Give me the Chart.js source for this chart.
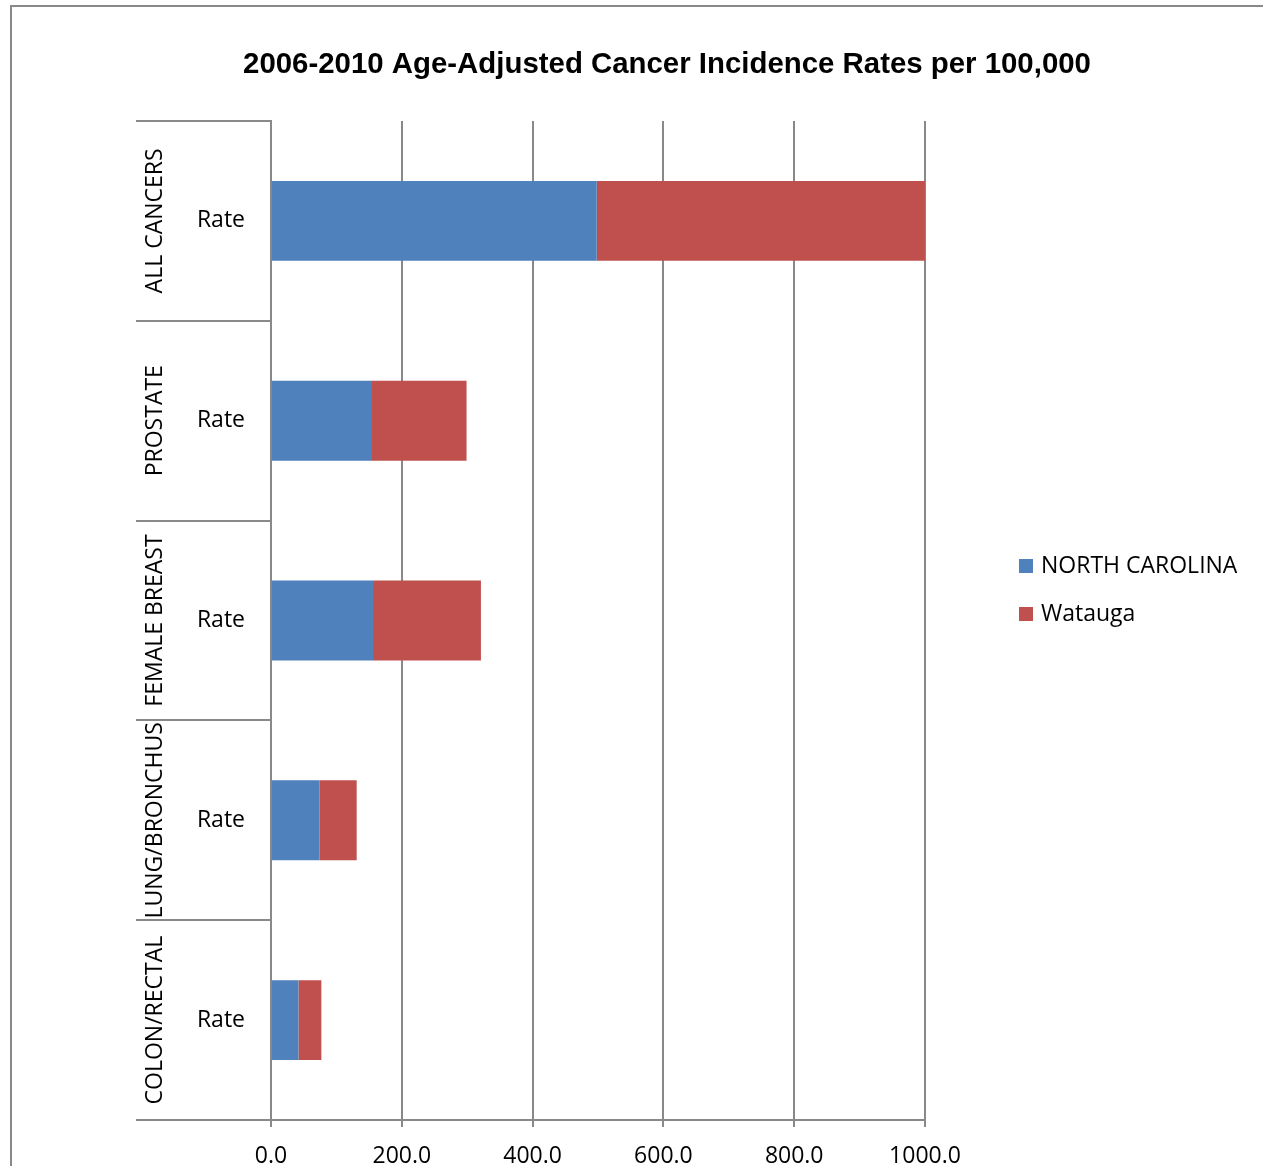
<!DOCTYPE html>
<html>
<head>
<meta charset="utf-8">
<script src="https://cdn.jsdelivr.net/npm/chart.js@4/dist/chart.umd.min.js"></script>
<style>
html,body{margin:0;padding:0;background:#fff;}
canvas{display:block;}
</style>
</head>
<body>
<canvas id="c" width="1263" height="1166"></canvas>
<script>
const categories = ['ALL CANCERS', 'PROSTATE', 'FEMALE BREAST', 'LUNG/BRONCHUS', 'COLON/RECTAL'];
const subLabels = ['Rate', 'Rate', 'Rate', 'Rate', 'Rate'];
const seriesNames = ['NORTH CAROLINA', 'Watauga'];
const ncValues = [498, 153, 156, 74, 42];
const wataugaValues = [504, 146, 165, 57, 35];
const xMin = 0, xMax = 1000, xStep = 200;
const titleText = '2006-2010 Age-Adjusted Cancer Incidence Rates per 100,000';

const BLUE = '#4F81BD', RED = '#C0504D', GRID = '#898989';
const FONT = '"Open Sans", sans-serif';

const decor = {
  id: 'decor',
  afterDraw(chart) {
    const ctx = chart.ctx;
    const y = chart.scales.y;
    const area = chart.chartArea;
    ctx.save();
    // outer frame
    ctx.strokeStyle = GRID; ctx.lineWidth = 2;
    ctx.beginPath();
    ctx.moveTo(11, 1166); ctx.lineTo(11, 6); ctx.lineTo(1263, 6);
    ctx.stroke();
    // title
    ctx.fillStyle = '#000';
    ctx.font = 'bold 29.4px "Liberation Sans", Arial, sans-serif';
    ctx.textAlign = 'center'; ctx.textBaseline = 'middle';
    ctx.fillText(titleText, 667, 65);
    // category separators + group labels
    const n = categories.length;
    const half = (y.getPixelForValue(1) - y.getPixelForValue(0)) / 2;
    ctx.strokeStyle = GRID; ctx.lineWidth = 2;
    for (let i = 0; i <= n; i++) {
      const py = Math.round(i < n ? y.getPixelForValue(i) - half : y.getPixelForValue(n - 1) + half);
      ctx.beginPath();
      ctx.moveTo(136, py); ctx.lineTo(area.left, py);
      ctx.stroke();
    }
    ctx.font = '23px ' + FONT;
    ctx.fillStyle = '#000';
    for (let i = 0; i < n; i++) {
      const cy = y.getPixelForValue(i);
      ctx.save();
      ctx.translate(155, cy);
      ctx.rotate(-Math.PI / 2);
      ctx.textAlign = 'center'; ctx.textBaseline = 'middle';
      ctx.fillText(categories[i], 0, 0);
      ctx.restore();
    }
    // legend
    const colors = [BLUE, RED];
    ctx.textAlign = 'left'; ctx.textBaseline = 'middle';
    for (let i = 0; i < seriesNames.length; i++) {
      const ly = 566 + i * 48;
      ctx.fillStyle = colors[i];
      ctx.fillRect(1019, ly - 7, 14, 14);
      ctx.fillStyle = '#000';
      ctx.fillText(seriesNames[i], 1041, ly);
    }
    ctx.restore();
  }
};

new Chart(document.getElementById('c'), {
  type: 'bar',
  data: {
    labels: subLabels,
    datasets: [
      { label: seriesNames[0], data: ncValues, backgroundColor: BLUE, borderWidth: 0 },
      { label: seriesNames[1], data: wataugaValues, backgroundColor: RED, borderWidth: 0 }
    ]
  },
  options: {
    indexAxis: 'y',
    responsive: false,
    animation: false,
    layout: { padding: { top: 121, right: 338, left: 0, bottom: 0 } },
    datasets: { bar: { categoryPercentage: 1, barPercentage: 0.4 } },
    plugins: { legend: { display: false }, title: { display: false }, tooltip: { enabled: false } },
    scales: {
      x: {
        stacked: true, min: xMin, max: xMax,
        ticks: { stepSize: xStep, callback: v => Number(v).toFixed(1), font: { family: FONT, size: 23 }, color: '#000', padding: 16 },
        grid: { color: GRID, lineWidth: 2, tickLength: 7 },
        border: { display: true, color: GRID, width: 2 },
        afterFit: s => { s.height = 46; }
      },
      y: {
        stacked: true,
        ticks: { font: { family: FONT, size: 23 }, color: '#000', padding: 26 },
        grid: { display: false, drawTicks: false },
        border: { display: true, color: GRID, width: 2 },
        afterFit: s => { s.width = 271; }
      }
    }
  },
  plugins: [decor]
});
</script>
</body>
</html>
